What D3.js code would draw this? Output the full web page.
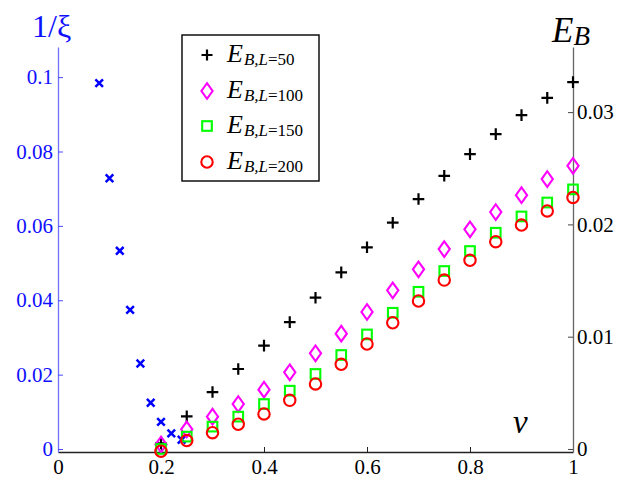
<!DOCTYPE html>
<html><head><meta charset="utf-8">
<script src="https://cdn.jsdelivr.net/npm/d3@7"></script>
<style>body{margin:0;background:#fff;}svg{display:block;}</style>
</head><body>
<script>
// ---- data ----
const xiV = [0.08, 0.10, 0.12, 0.14, 0.16, 0.18, 0.20, 0.22, 0.24];
const xiVal = [0.0984, 0.0728, 0.0533, 0.0374, 0.0230, 0.01245, 0.0073, 0.0042, 0.0025];
const ebV = [0.20,0.25,0.30,0.35,0.40,0.45,0.50,0.55,0.60,0.65,0.70,0.75,0.80,0.85,0.90,0.95,1.00];
const eb50  = [0.0005,0.0029,0.00507,0.00712,0.0092,0.0113,0.01347,0.01573,0.01796,0.02015,0.02226,0.02433,0.02626,0.02804,0.02973,0.03127,0.03267];
const eb100 = [0.0004,0.00175,0.00288,0.0040,0.00528,0.00683,0.00852,0.01027,0.0122,0.01413,0.0160,0.0178,0.01956,0.0211,0.0226,0.02404,0.02522];
const eb150 = [0.0,0.0011,0.00199,0.00288,0.0040,0.00519,0.00668,0.00837,0.0102,0.01213,0.0140,0.01585,0.01763,0.01926,0.02071,0.02195,0.02312];
const eb200 = [-0.0002,0.00075,0.00145,0.0022,0.00312,0.00433,0.00579,0.00754,0.00935,0.01124,0.01318,0.01504,0.0168,0.01846,0.01994,0.0212,0.0224];
const xTicks = [0, 0.2, 0.4, 0.6, 0.8, 1];
const xTickLabels = ["0", "0.2", "0.4", "0.6", "0.8", "1"];
const leftTicks = [0, 0.02, 0.04, 0.06, 0.08, 0.1];
const leftTickLabels = ["0", "0.02", "0.04", "0.06", "0.08", "0.1"];
const rightTicks = [0, 0.01, 0.02, 0.03];
const rightTickLabels = ["0", "0.01", "0.02", "0.03"];
const xDomain = [0, 1];
const leftDomain = [-0.0008, 0.1081];
const rightDomain = [-0.00027, 0.0358];
const legendNames = ["50", "100", "150", "200"];

// ---- layout ----
const W = 626, H = 478;
const X0 = 58, X1 = 573, YB = 452, YT = 47;
const FONT = "'Liberation Serif', 'Times New Roman', serif";

const svg = d3.select("body").append("svg").attr("width", W).attr("height", H)
  .style("font-family", FONT);

const x = d3.scaleLinear().domain(xDomain).range([X0, X1]);
const yL = d3.scaleLinear().domain(leftDomain).range([YB, YT]);
const yR = d3.scaleLinear().domain(rightDomain).range([YB, YT]);

// axes
const ax = svg.append("g").attr("transform", `translate(0,${YB})`)
  .call(d3.axisBottom(x).tickValues(xTicks).tickFormat((d,i)=>xTickLabels[i])
    .tickSizeInner(-5).tickSizeOuter(0).tickPadding(7));
ax.select(".domain").attr("stroke", "#222").attr("stroke-width", 1.6);
ax.selectAll(".tick line").attr("stroke", "#222");
ax.selectAll("text").attr("font-size", 21).attr("fill", "#000").attr("font-family", FONT);

const al = svg.append("g").attr("transform", `translate(${X0},0)`)
  .call(d3.axisLeft(yL).tickValues(leftTicks).tickFormat((d,i)=>leftTickLabels[i])
    .tickSizeInner(-5).tickSizeOuter(0).tickPadding(5));
al.select(".domain").attr("stroke", "#6f6fff").attr("stroke-width", 1.3);
al.selectAll(".tick line").attr("stroke", "#4a4aff");
al.selectAll("text").attr("font-size", 21).attr("fill", "#1010ff").attr("font-family", FONT);

const ar = svg.append("g").attr("transform", `translate(${X1},0)`)
  .call(d3.axisRight(yR).tickValues(rightTicks).tickFormat((d,i)=>rightTickLabels[i])
    .tickSizeInner(-5).tickSizeOuter(0).tickPadding(4));
ar.select(".domain").attr("stroke", "#666").attr("stroke-width", 1.3);
ar.selectAll(".tick line").attr("stroke", "#444");
ar.selectAll("text").attr("font-size", 21).attr("fill", "#000").attr("font-family", FONT);

// axis titles
svg.append("text").attr("x", 32).attr("y", 37).attr("font-size", 32).attr("fill", "#1010ff")
  .text("1/ξ");
const eb = svg.append("text").attr("x", 552).attr("y", 42).attr("font-size", 35).attr("font-style", "italic");
eb.append("tspan").text("E");
eb.append("tspan").attr("font-size", 27).attr("dy", 3).text("B");
svg.append("text").attr("x", 513).attr("y", 433).attr("font-size", 33).attr("font-style", "italic").text("v");

// marker drawers
function plus(g, cx, cy, s, color) {
  g.append("path").attr("d", `M${cx-s},${cy}H${cx+s}M${cx},${cy-s}V${cy+s}`)
    .attr("stroke", color).attr("stroke-width", 2.2).attr("fill", "none");
}
function cross(g, cx, cy, s, color) {
  g.append("path").attr("d", `M${cx-s},${cy-s}L${cx+s},${cy+s}M${cx-s},${cy+s}L${cx+s},${cy-s}`)
    .attr("stroke", color).attr("stroke-width", 2.5).attr("fill", "none");
}
function diamond(g, cx, cy, color) {
  g.append("path").attr("d", `M${cx},${cy-7.8}L${cx+5.6},${cy}L${cx},${cy+7.8}L${cx-5.6},${cy}Z`)
    .attr("stroke", color).attr("stroke-width", 2.1).attr("fill", "none");
}
function square(g, cx, cy, color) {
  g.append("rect").attr("x", cx-4.8).attr("y", cy-4.8).attr("width", 9.6).attr("height", 9.6)
    .attr("stroke", color).attr("stroke-width", 2.1).attr("fill", "none");
}
function circle(g, cx, cy, color) {
  g.append("circle").attr("cx", cx).attr("cy", cy).attr("r", 5.7)
    .attr("stroke", color).attr("stroke-width", 2.1).attr("fill", "none");
}

const gm = svg.append("g");
xiV.forEach((v,i)=>cross(gm, x(v), yL(xiVal[i]), 3.8, "#0000ff"));
ebV.forEach((v,i)=>plus(gm, x(v), yR(eb50[i]), 5.8, "#000"));
ebV.forEach((v,i)=>diamond(gm, x(v), yR(eb100[i]), "#ff00ff"));
ebV.forEach((v,i)=>square(gm, x(v), yR(eb150[i]), "#00ff00"));
ebV.forEach((v,i)=>circle(gm, x(v), yR(eb200[i]), "#ff0000"));

// legend
const lg = svg.append("g");
lg.append("rect").attr("x", 182).attr("y", 35).attr("width", 137).attr("height", 146)
  .attr("fill", "#fff").attr("stroke", "#111").attr("stroke-width", 1.5);
const rowY = [55, 91, 126, 162];
const legColors = ["#000", "#ff00ff", "#00ff00", "#ff0000"];
rowY.forEach((ry, i) => {
  const mx = 207;
  if (i === 0) plus(lg, mx, ry, 5.5, legColors[i]);
  if (i === 1) diamond(lg, mx, ry, legColors[i]);
  if (i === 2) square(lg, mx, ry, legColors[i]);
  if (i === 3) circle(lg, mx, ry, legColors[i]);
  const t = lg.append("text").attr("x", 227).attr("y", ry + 7).attr("font-size", 26);
  t.append("tspan").attr("font-style", "italic").text("E");
  t.append("tspan").attr("font-size", 17).attr("dy", 3).attr("dx", 1).attr("font-style", "italic").text("B,L");
  t.append("tspan").attr("font-size", 17).text("=" + legendNames[i]);
});
</script>
</body></html>
